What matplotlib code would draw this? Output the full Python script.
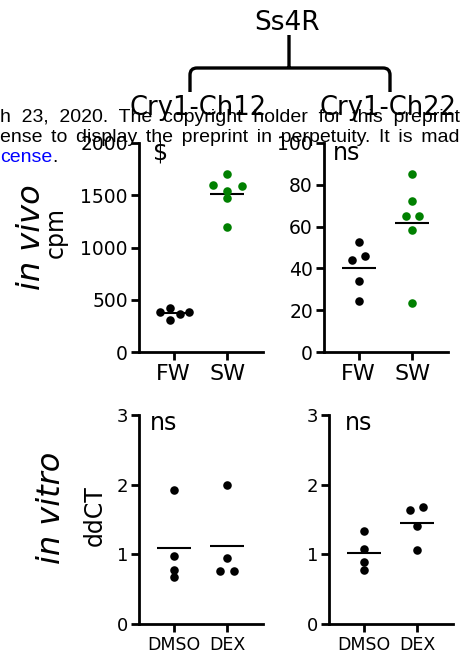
import matplotlib.pyplot as plt
import numpy as np
from matplotlib.path import Path
from matplotlib.patches import PathPatch

plt.rcParams["font.family"] = "DejaVu Sans"

W, H = 462, 656

groups_vivo = ["FW", "SW"]
groups_vitro = ["DMSO", "DEX"]

# in vivo, cpm
ch12_fw = [378, 422, 304, 368, 383]
ch12_sw = [1700, 1597, 1588, 1543, 1470, 1198]
ch22_fw = [52.6, 43.8, 45.7, 33.8, 24.4]
ch22_sw = [85.3, 72.3, 64.9, 65.0, 58.6, 23.6]

# in vitro, ddCT
ch12_dmso = [1.93, 0.97, 0.78, 0.67]
ch12_dex = [2.00, 0.95, 0.76, 0.76]
ch22_dmso = [1.33, 1.07, 0.89, 0.77]
ch22_dex = [1.64, 1.68, 1.40, 1.06]

# sideways spread of the dots (swarm)
ch12_fw_dx = [-0.25, -0.07, -0.07, 0.11, 0.29]
ch12_sw_dx = [0, -0.26, 0.27, 0, 0, 0]
ch22_fw_dx = [0, -0.12, 0.12, 0, 0]
ch22_sw_dx = [0, 0, -0.12, 0.12, 0, 0]
ch12_dmso_dx = [0, 0, 0, 0]
ch12_dex_dx = [0, 0, -0.13, 0.12]
ch22_dmso_dx = [0, 0, 0, 0]
ch22_dex_dx = [-0.13, 0.11, 0, 0]

GREEN = "#008000"

fig = plt.figure(figsize=(W / 100, H / 100), dpi=100)


def fx(px):
    return px / W


def fy(py):
    return 1 - py / H


def panel(box, groups, series, spreads, colors, ymax, yticks, xfs, yfs, note, note_x, note_y):
    l, r, t, b = box
    ax = fig.add_axes([fx(l), fy(b), (r - l) / W, (b - t) / H])
    for i, (vals, dx, c) in enumerate(zip(series, spreads, colors)):
        ax.scatter([i + d for d in dx], vals, s=38, color=c, linewidths=0,
                   clip_on=False, zorder=3)
        ax.hlines(np.mean(vals), i - 0.32, i + 0.32, color="black", lw=1.5, zorder=2)
    ax.set_xlim(-0.65, 1.67)
    ax.set_ylim(0, ymax)
    ax.set_xticks(range(len(groups)))
    ax.set_xticklabels(groups, fontsize=xfs)
    ax.set_yticks(yticks)
    ax.tick_params(axis="y", labelsize=yfs, length=6, width=2, pad=2)
    ax.tick_params(axis="x", length=6, width=2, pad=3)
    for s in ["top", "right"]:
        ax.spines[s].set_visible(False)
    for s in ["left", "bottom"]:
        ax.spines[s].set_linewidth(2)
    ax.patch.set_alpha(0)
    ax.text(note_x, note_y, note, transform=ax.transAxes, fontsize=17,
            va="baseline", ha="left")
    return ax


panel((139, 263, 143, 352), groups_vivo, [ch12_fw, ch12_sw], [ch12_fw_dx, ch12_sw_dx],
      ["black", GREEN], 2000, [0, 500, 1000, 1500, 2000], 16, 13.5, "$", 0.11, 0.92)
panel((324, 448, 143, 352), groups_vivo, [ch22_fw, ch22_sw], [ch22_fw_dx, ch22_sw_dx],
      ["black", GREEN], 100, [0, 20, 40, 60, 80, 100], 16, 13.5, "ns", 0.07, 0.92)
panel((139, 263, 415, 624), groups_vitro, [ch12_dmso, ch12_dex], [ch12_dmso_dx, ch12_dex_dx],
      ["black", "black"], 3, [0, 1, 2, 3], 12.5, 13, "ns", 0.09, 0.93)
panel((329, 453, 415, 624), groups_vitro, [ch22_dmso, ch22_dex], [ch22_dmso_dx, ch22_dex_dx],
      ["black", "black"], 3, [0, 1, 2, 3], 12.5, 13, "ns", 0.13, 0.93)

# row labels
fig.text(fx(31), fy(237), "in vivo", rotation=90, fontsize=23, style="italic",
         ha="center", va="center")
fig.text(fx(56), fy(233), "cpm", rotation=90, fontsize=17, ha="center", va="center")
fig.text(fx(51), fy(508), "in vitro", rotation=90, fontsize=23, style="italic",
         ha="center", va="center")
fig.text(fx(95), fy(516), "ddCT", rotation=90, fontsize=17, ha="center", va="center")

# column titles and bracket
fig.text(fx(198), fy(108), "Cry1-Ch12", fontsize=18.5, ha="center", va="center")
fig.text(fx(388), fy(108), "Cry1-Ch22", fontsize=18.5, ha="center", va="center")
fig.text(fx(287), fy(23), "Ss4R", fontsize=19, ha="center", va="center")

verts = [(190, 92), (190, 75), (190, 68), (197, 68), (383, 68), (390, 68), (390, 75),
         (390, 92), (289, 35), (289, 68)]
codes = [Path.MOVETO, Path.LINETO, Path.CURVE3, Path.CURVE3, Path.LINETO, Path.CURVE3,
         Path.CURVE3, Path.LINETO, Path.MOVETO, Path.LINETO]
bracket = Path([(fx(x), fy(y)) for x, y in verts], codes)
fig.add_artist(PathPatch(bracket, transform=fig.transFigure, fill=False, lw=2.4,
                         edgecolor="black"))

# preprint banner bleeding in from the page (justified, so wide word gaps)
pfont = dict(family=["Liberation Sans", "DejaVu Sans"], fontsize=14,
             va="baseline", ha="left")
line1 = "h 23, 2020. The copyright holder for this preprint"
line2 = "ense to display the preprint in perpetuity. It is mad"
fig.text(0, fy(122), line1.replace(" ", "  "), **pfont)
fig.text(0, fy(142), line2.replace(" ", " \u2006"), **pfont)
fig.text(0, fy(162), "cense", color="blue", **pfont)
fig.text(fx(52), fy(162), ".", **pfont)

plt.savefig("out.png", dpi=100)
plt.close()
